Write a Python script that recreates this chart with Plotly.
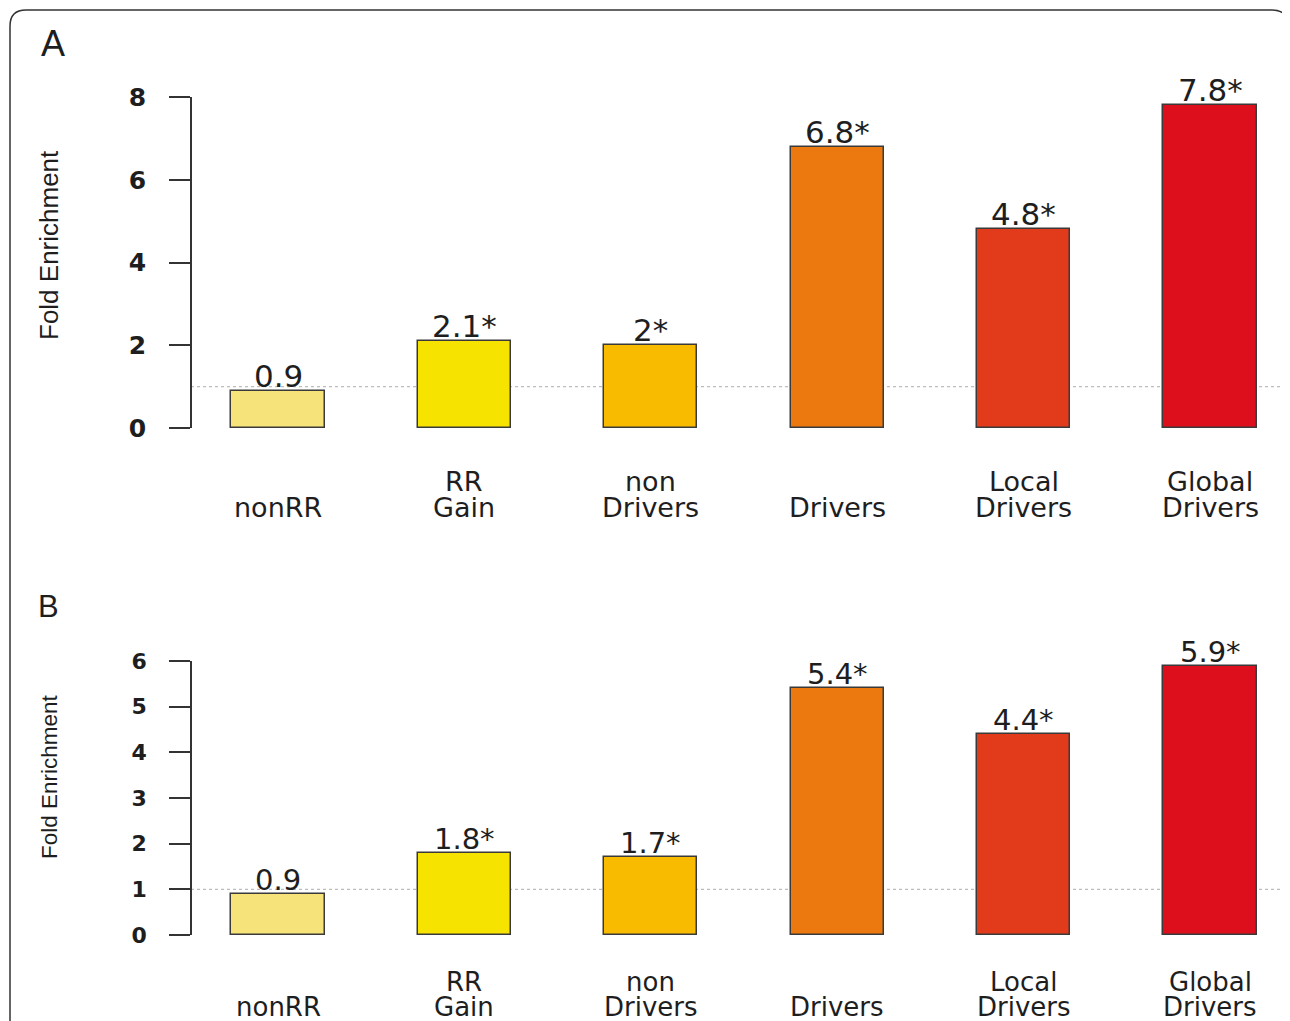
import plotly.graph_objects as go

# ---------------- data ----------------
categories = ["nonRR", "RR Gain", "non Drivers", "Drivers", "Local Drivers", "Global Drivers"]
label_top = ["", "RR", "non", "", "Local", "Global"]
label_bottom = ["nonRR", "Gain", "Drivers", "Drivers", "Drivers", "Drivers"]
values_a = [0.9, 2.1, 2.0, 6.8, 4.8, 7.8]
values_b = [0.9, 1.8, 1.7, 5.4, 4.4, 5.9]
labels_a = ["0.9", "2.1*", "2*", "6.8*", "4.8*", "7.8*"]
labels_b = ["0.9", "1.8*", "1.7*", "5.4*", "4.4*", "5.9*"]
ticks_a = [0, 2, 4, 6, 8]
ticks_b = [0, 1, 2, 3, 4, 5, 6]
bar_colors = ["#F6E37A", "#F6E400", "#F8BB00", "#EC790F", "#E23B1B", "#DE0F1C"]

W, H = 1290, 1021
OFF = 8  # page body margin
def X(px): return (px - OFF) / W
def Y(py): return 1 - (py - OFF) / H

xs = list(range(len(categories)))
unit = 186.4
x0 = -(278 - OFF) / unit
x1 = x0 + W / unit

fig = go.Figure()
fig.add_trace(go.Bar(x=xs, y=values_a, width=0.5, marker=dict(color=bar_colors, line=dict(color="#3a3a3a", width=1.5)),
                     xaxis="x", yaxis="y", showlegend=False, hoverinfo="skip"))
fig.add_trace(go.Bar(x=xs, y=values_b, width=0.5, marker=dict(color=bar_colors, line=dict(color="#3a3a3a", width=1.5)),
                     xaxis="x2", yaxis="y2", showlegend=False, hoverinfo="skip"))

ann = []
shapes = []
TXT = "#1e1e1e"
for panel, vals, labs, xa, ya, vsize, csize, line1, line2 in [
    ("A", values_a, labels_a, "x", "y", 31, 27, 482, 507),
    ("B", values_b, labels_b, "x2", "y2", 29, 26, 982, 1007),
]:
    for i, (v, t) in enumerate(zip(vals, labs)):
        ann.append(dict(x=i, y=v, xref=xa, yref=ya, text=t, showarrow=False, xanchor="center", yanchor="bottom",
                        yshift=-5, font=dict(family="DejaVu Sans", size=vsize, color=TXT)))
        if label_top[i]:
            ann.append(dict(x=i, y=Y(line1), xref=xa, yref="paper", text=label_top[i], showarrow=False,
                            xanchor="center", yanchor="middle",
                            font=dict(family="DejaVu Sans", size=csize, color=TXT)))
        ann.append(dict(x=i, y=Y(line2), xref=xa, yref="paper", text=label_bottom[i], showarrow=False,
                        xanchor="center", yanchor="middle",
                        font=dict(family="DejaVu Sans", size=csize, color=TXT)))
    shapes.append(dict(type="line", xref="paper", yref=ya, x0=X(191), x1=X(1284), y0=1, y1=1,
                       line=dict(color="#bdbdbd", width=1.3, dash="dot"), layer="below"))

# panel letters and y titles
for txt, px, py, sz, ang in [("A", 53, 43, 36, 0), ("B", 48, 606, 31, 0),
                             ("Fold Enrichment", 49, 245, 26, -90), ("Fold Enrichment", 49, 777, 22.5, -90)]:
    ann.append(dict(x=X(px), y=Y(py), xref="paper", yref="paper", text=txt, textangle=ang, showarrow=False,
                    xanchor="center", yanchor="middle",
                    font=dict(family="Liberation Sans", size=sz, color=TXT)))

# outer rounded frame
r = 16
path = (f"M {X(10)},{Y(1040)} L {X(10)},{Y(10 + r)} Q {X(10)},{Y(10)} {X(10 + r)},{Y(10)} "
        f"L {X(1288 - r)},{Y(10)} Q {X(1288)},{Y(10)} {X(1288)},{Y(10 + r)} L {X(1288)},{Y(1040)}")
shapes.append(dict(type="path", xref="paper", yref="paper", path=path, line=dict(color="#333333", width=1.5)))

yax_common = dict(showgrid=False, zeroline=False, showline=True, linecolor="#333333", linewidth=1.5,
                  ticks="outside", ticklen=21, tickwidth=1.5, tickcolor="#333333", anchor="free",
                  position=X(191), ticklabelstandoff=18, automargin=False, fixedrange=True)

fig.update_layout(
    template="none",
    width=W, height=H, margin=dict(l=0, r=0, t=0, b=0, pad=0, autoexpand=False),
    paper_bgcolor="white", plot_bgcolor="rgba(0,0,0,0)",
    xaxis=dict(domain=[0, 1], range=[x0, x1], visible=False, fixedrange=True, automargin=False),
    xaxis2=dict(domain=[0, 1], range=[x0, x1], visible=False, anchor="y2", fixedrange=True, automargin=False),
    yaxis=dict(domain=[Y(428), Y(97)], range=[0, 8], tickvals=ticks_a,
               tickfont=dict(family="DejaVu Sans", size=25, color=TXT, weight="bold"), **yax_common),
    yaxis2=dict(domain=[Y(935), Y(661)], range=[0, 6], tickvals=ticks_b,
                tickfont=dict(family="DejaVu Sans", size=22, color=TXT, weight="bold"), **yax_common),
    annotations=ann, shapes=shapes, bargap=0,
)
fig.write_html("out.html")
